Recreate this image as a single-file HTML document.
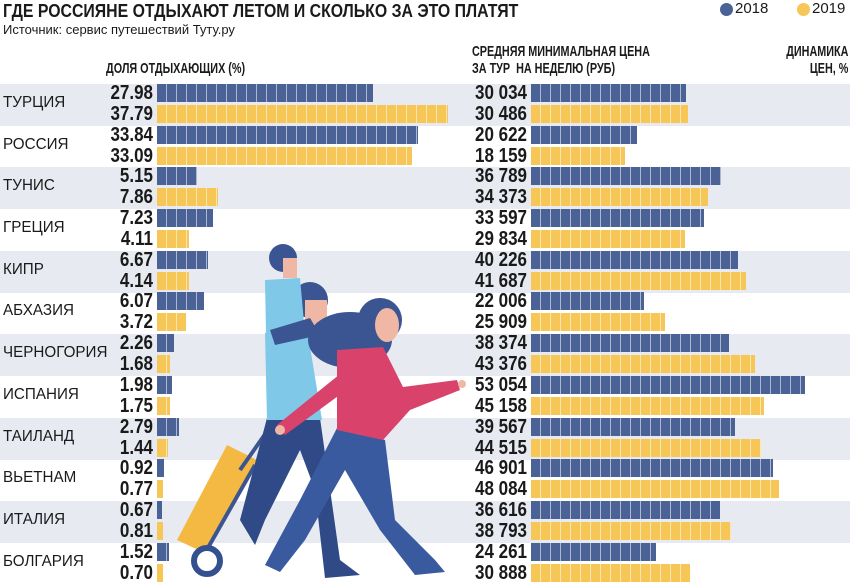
<!DOCTYPE html>
<html><head><meta charset="utf-8"><style>
*{margin:0;padding:0;box-sizing:border-box}
body{width:850px;height:588px;background:#fff;position:relative;overflow:hidden;font-family:"Liberation Sans",sans-serif;color:#1a1a1a}
.a{position:absolute;white-space:nowrap}
.band{position:absolute;left:0;width:850px;height:42px;background:#e7ebf1}
.c{position:absolute;left:3px;font-size:16px;transform:scaleX(.95);transform-origin:left}
.v{position:absolute;font-size:20px;font-weight:bold;text-align:right;line-height:19px;transform:scaleX(.85);transform-origin:right}
.b{position:absolute;height:18px;background-image:repeating-linear-gradient(90deg,transparent 0 9px,rgba(255,255,255,.55) 9px 10px)}
.b1{background-color:#4a6296}.b2{background-color:#f6c657}
.d{position:absolute;right:4px;font-size:20px;font-weight:bold;width:80px;text-align:right;transform:scaleX(.8);transform-origin:right}
.g{color:#4c7d70}.r{color:#c0392b}
.h{font-size:15px;font-weight:bold;transform:scaleX(.72);transform-origin:left;line-height:17px}
</style></head><body>
<div class="a" style="left:3px;top:1px;font-size:18px;font-weight:bold;transform:scaleX(.88);transform-origin:left">ГДЕ РОССИЯНЕ ОТДЫХАЮТ ЛЕТОМ И СКОЛЬКО ЗА ЭТО ПЛАТЯТ</div>
<div class="a" style="left:3px;top:22px;font-size:13px">Источник: сервис путешествий Туту.ру</div>
<div class="a" style="left:720px;top:3px;width:13px;height:13px;border-radius:50%;background:#4a6296"></div>
<div class="a" style="left:735px;top:0px;font-size:15px">2018</div>
<div class="a" style="left:797px;top:3px;width:13px;height:13px;border-radius:50%;background:#f6c657"></div>
<div class="a" style="left:812px;top:0px;font-size:15px">2019</div>
<div class="a h" style="left:106px;top:60px">ДОЛЯ ОТДЫХАЮЩИХ (%)</div>
<div class="a h" style="left:472px;top:43px">СРЕДНЯЯ МИНИМАЛЬНАЯ ЦЕНА<br>ЗА ТУР&nbsp; НА НЕДЕЛЮ (РУБ)</div>
<div class="a h" style="right:2px;top:43px;text-align:right;transform-origin:right">ДИНАМИКА<br>ЦЕН, %</div>

<div class="band" style="top:84px"></div>
<div class="band" style="top:167px"></div>
<div class="band" style="top:251px"></div>
<div class="band" style="top:334px"></div>
<div class="band" style="top:418px"></div>
<div class="band" style="top:501px"></div>

<div style="position:absolute;left:0;top:0">
<div class="c a" style="top:94px">ТУРЦИЯ</div>
<div class="v" style="left:70px;width:83px;top:84px">27.98</div><div class="b b1" style="left:157px;top:84px;width:216px"></div>
<div class="v" style="left:70px;width:83px;top:105px">37.79</div><div class="b b2" style="left:157px;top:105px;width:291px"></div>
<div class="v" style="left:430px;width:97px;top:84px">30 034</div><div class="b b1" style="left:531px;top:84px;width:155px"></div>
<div class="v" style="left:430px;width:97px;top:105px">30 486</div><div class="b b2" style="left:531px;top:105px;width:157px"></div>
<div class="d g a" style="top:92px">+1.5</div>

<div class="c a" style="top:136px">РОССИЯ</div>
<div class="v" style="left:70px;width:83px;top:126px">33.84</div><div class="b b1" style="left:157px;top:126px;width:261px"></div>
<div class="v" style="left:70px;width:83px;top:147px">33.09</div><div class="b b2" style="left:157px;top:147px;width:255px"></div>
<div class="v" style="left:430px;width:97px;top:126px">20 622</div><div class="b b1" style="left:531px;top:126px;width:106px"></div>
<div class="v" style="left:430px;width:97px;top:147px">18 159</div><div class="b b2" style="left:531px;top:147px;width:94px"></div>
<div class="d r a" style="top:134px">-11.9</div>

<div class="c a" style="top:177px">ТУНИС</div>
<div class="v" style="left:70px;width:83px;top:167px">5.15</div><div class="b b1" style="left:157px;top:167px;width:40px"></div>
<div class="v" style="left:70px;width:83px;top:188px">7.86</div><div class="b b2" style="left:157px;top:188px;width:61px"></div>
<div class="v" style="left:430px;width:97px;top:167px">36 789</div><div class="b b1" style="left:531px;top:167px;width:190px"></div>
<div class="v" style="left:430px;width:97px;top:188px">34 373</div><div class="b b2" style="left:531px;top:188px;width:177px"></div>
<div class="d r a" style="top:175px">-6.6</div>

<div class="c a" style="top:219px">ГРЕЦИЯ</div>
<div class="v" style="left:70px;width:83px;top:209px">7.23</div><div class="b b1" style="left:157px;top:209px;width:56px"></div>
<div class="v" style="left:70px;width:83px;top:230px">4.11</div><div class="b b2" style="left:157px;top:230px;width:32px"></div>
<div class="v" style="left:430px;width:97px;top:209px">33 597</div><div class="b b1" style="left:531px;top:209px;width:173px"></div>
<div class="v" style="left:430px;width:97px;top:230px">29 834</div><div class="b b2" style="left:531px;top:230px;width:154px"></div>
<div class="d r a" style="top:217px">-11.2</div>

<div class="c a" style="top:261px">КИПР</div>
<div class="v" style="left:70px;width:83px;top:251px">6.67</div><div class="b b1" style="left:157px;top:251px;width:51px"></div>
<div class="v" style="left:70px;width:83px;top:272px">4.14</div><div class="b b2" style="left:157px;top:272px;width:32px"></div>
<div class="v" style="left:430px;width:97px;top:251px">40 226</div><div class="b b1" style="left:531px;top:251px;width:207px"></div>
<div class="v" style="left:430px;width:97px;top:272px">41 687</div><div class="b b2" style="left:531px;top:272px;width:215px"></div>
<div class="d g a" style="top:259px">+3.6</div>

<div class="c a" style="top:302px">АБХАЗИЯ</div>
<div class="v" style="left:70px;width:83px;top:292px">6.07</div><div class="b b1" style="left:157px;top:292px;width:47px"></div>
<div class="v" style="left:70px;width:83px;top:313px">3.72</div><div class="b b2" style="left:157px;top:313px;width:29px"></div>
<div class="v" style="left:430px;width:97px;top:292px">22 006</div><div class="b b1" style="left:531px;top:292px;width:113px"></div>
<div class="v" style="left:430px;width:97px;top:313px">25 909</div><div class="b b2" style="left:531px;top:313px;width:134px"></div>
<div class="d g a" style="top:300px">+17.7</div>

<div class="c a" style="top:344px">ЧЕРНОГОРИЯ</div>
<div class="v" style="left:70px;width:83px;top:334px">2.26</div><div class="b b1" style="left:157px;top:334px;width:17px"></div>
<div class="v" style="left:70px;width:83px;top:355px">1.68</div><div class="b b2" style="left:157px;top:355px;width:13px"></div>
<div class="v" style="left:430px;width:97px;top:334px">38 374</div><div class="b b1" style="left:531px;top:334px;width:198px"></div>
<div class="v" style="left:430px;width:97px;top:355px">43 376</div><div class="b b2" style="left:531px;top:355px;width:224px"></div>
<div class="d g a" style="top:342px">+13.0</div>

<div class="c a" style="top:386px">ИСПАНИЯ</div>
<div class="v" style="left:70px;width:83px;top:376px">1.98</div><div class="b b1" style="left:157px;top:376px;width:15px"></div>
<div class="v" style="left:70px;width:83px;top:397px">1.75</div><div class="b b2" style="left:157px;top:397px;width:13px"></div>
<div class="v" style="left:430px;width:97px;top:376px">53 054</div><div class="b b1" style="left:531px;top:376px;width:274px"></div>
<div class="v" style="left:430px;width:97px;top:397px">45 158</div><div class="b b2" style="left:531px;top:397px;width:233px"></div>
<div class="d r a" style="top:384px">-14.9</div>

<div class="c a" style="top:428px">ТАИЛАНД</div>
<div class="v" style="left:70px;width:83px;top:418px">2.79</div><div class="b b1" style="left:157px;top:418px;width:22px"></div>
<div class="v" style="left:70px;width:83px;top:439px">1.44</div><div class="b b2" style="left:157px;top:439px;width:11px"></div>
<div class="v" style="left:430px;width:97px;top:418px">39 567</div><div class="b b1" style="left:531px;top:418px;width:204px"></div>
<div class="v" style="left:430px;width:97px;top:439px">44 515</div><div class="b b2" style="left:531px;top:439px;width:230px"></div>
<div class="d g a" style="top:426px">+12.5</div>

<div class="c a" style="top:469px">ВЬЕТНАМ</div>
<div class="v" style="left:70px;width:83px;top:459px">0.92</div><div class="b b1" style="left:157px;top:459px;width:7px"></div>
<div class="v" style="left:70px;width:83px;top:480px">0.77</div><div class="b b2" style="left:157px;top:480px;width:6px"></div>
<div class="v" style="left:430px;width:97px;top:459px">46 901</div><div class="b b1" style="left:531px;top:459px;width:242px"></div>
<div class="v" style="left:430px;width:97px;top:480px">48 084</div><div class="b b2" style="left:531px;top:480px;width:248px"></div>
<div class="d g a" style="top:467px">+2.5</div>

<div class="c a" style="top:511px">ИТАЛИЯ</div>
<div class="v" style="left:70px;width:83px;top:501px">0.67</div><div class="b b1" style="left:157px;top:501px;width:5px"></div>
<div class="v" style="left:70px;width:83px;top:522px">0.81</div><div class="b b2" style="left:157px;top:522px;width:6px"></div>
<div class="v" style="left:430px;width:97px;top:501px">36 616</div><div class="b b1" style="left:531px;top:501px;width:189px"></div>
<div class="v" style="left:430px;width:97px;top:522px">38 793</div><div class="b b2" style="left:531px;top:522px;width:200px"></div>
<div class="d g a" style="top:509px">+5.9</div>

<div class="c a" style="top:553px">БОЛГАРИЯ</div>
<div class="v" style="left:70px;width:83px;top:543px">1.52</div><div class="b b1" style="left:157px;top:543px;width:12px"></div>
<div class="v" style="left:70px;width:83px;top:564px">0.70</div><div class="b b2" style="left:157px;top:564px;width:6px"></div>
<div class="v" style="left:430px;width:97px;top:543px">24 261</div><div class="b b1" style="left:531px;top:543px;width:125px"></div>
<div class="v" style="left:430px;width:97px;top:564px">30 888</div><div class="b b2" style="left:531px;top:564px;width:159px"></div>
<div class="d g a" style="top:551px">+27.3</div>
</div>

<svg class="a" style="left:0;top:0" width="850" height="588" viewBox="0 0 850 588">
<polygon points="177,540 227,445 257,460 205,553" fill="#f4b943"/>
<line x1="240" y1="470" x2="275" y2="420" stroke="#3b5592" stroke-width="4"/>
<line x1="205" y1="553" x2="255" y2="465" stroke="#3b5592" stroke-width="4"/>
<circle cx="207" cy="561" r="13" fill="#fff" stroke="#34508e" stroke-width="6"/>
<polygon points="267,418 320,418 340,560 360,575 325,578 315,490 300,450 265,520 255,545 240,520" fill="#2f4a86"/>
<polygon points="265,333 307,328 322,420 267,420" fill="#7fc8e8"/>
<circle cx="310" cy="300" r="18" fill="#3b5592"/>
<rect x="305" y="300" width="22" height="26" fill="#f0b7a4"/>
<polygon points="265,280 300,278 305,334 266,333" fill="#7fc8e8"/>
<circle cx="283" cy="258" r="14" fill="#3b5592"/>
<rect x="283" y="258" width="14" height="20" fill="#f0b7a4"/>
<polygon points="270,330 310,318 320,335 275,345" fill="#3b5592"/>
<polygon points="337,428 385,440 395,520 435,560 445,572 415,575 380,530 345,470 305,540 280,572 265,565 300,500" fill="#3a5aa0"/>
<ellipse cx="350" cy="340" rx="42" ry="28" fill="#3b5592"/>
<ellipse cx="380" cy="320" rx="22" ry="22" fill="#3b5592"/>
<ellipse cx="387" cy="325" rx="12" ry="17" fill="#f0b7a4"/>
<polygon points="337,350 383,347 403,387 457,380 460,390 410,410 383,440 337,430" fill="#d9436b"/>
<polygon points="345,370 360,380 285,435 277,425" fill="#d9436b"/>
<circle cx="462" cy="384" r="4" fill="#f0b7a4"/>
<circle cx="280" cy="430" r="5" fill="#f0b7a4"/>
</svg>
</body></html>
